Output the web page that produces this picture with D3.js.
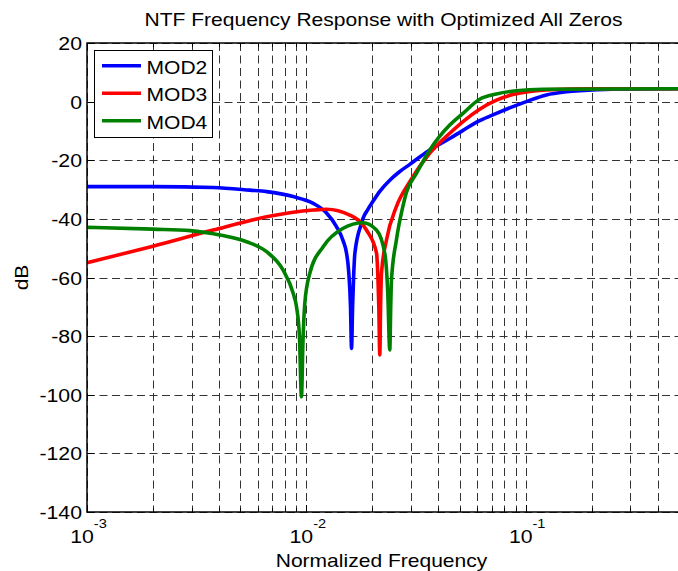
<!DOCTYPE html>
<html>
<head>
<meta charset="utf-8">
<script src="https://cdn.jsdelivr.net/npm/d3@7"></script>
<style>
  html, body { margin: 0; padding: 0; background: #fff; }
  svg { display: block; }
  text { font-family: "Liberation Sans", Arial, Helvetica, sans-serif; fill: #000; }
</style>
</head>
<body>
<div id="chart"></div>
<script>
// ---------- data ----------
const seriesNames = ["MOD2", "MOD3", "MOD4"];
const seriesColors = ["#0000ff", "#ff0000", "#008000"];

const mod2Freq = [0.001, 0.002, 0.00376, 0.00553, 0.00659, 0.00871, 0.01074, 0.01236, 0.01374, 0.01472, 0.01525, 0.0156, 0.0159, 0.01607, 0.01625, 0.01645, 0.01664, 0.01784, 0.01813, 0.0190, 0.02014, 0.02162, 0.02401, 0.0265, 0.02962, 0.0330, 0.03654, 0.04505, 0.05179, 0.06168, 0.07357, 0.08753, 0.1007, 0.1242, 0.15, 0.1762, 0.249, 0.5];
const mod2Db   = [-29.0, -29.0, -29.3, -30.2, -30.7, -32.4, -34.7, -38.0, -42.7, -47.5, -51.7, -58.0, -70.0, -84.2, -70.0, -58.5, -51.8, -41.5, -39.8, -37.0, -34.0, -30.6, -26.8, -24.0, -21.4, -18.8, -16.5, -12.6, -9.8, -6.5, -4.0, -1.7, 0.0, 2.3, 3.3, 3.7, 4.2, 4.4];

const mod3Freq = [0.001, 0.002, 0.00376, 0.00659, 0.01074, 0.01236, 0.01578, 0.01879, 0.02088, 0.0212, 0.0214, 0.02162, 0.0218, 0.02201, 0.02319, 0.02574, 0.02962, 0.03654, 0.04505, 0.05179, 0.06168, 0.07357, 0.08753, 0.1007, 0.1242, 0.2, 0.5];
const mod3Db   = [-55.0, -49.3, -43.8, -39.3, -37.0, -36.7, -38.7, -43.8, -51.6, -60.0, -70.0, -86.4, -70.0, -58.5, -47.2, -35.8, -27.3, -17.6, -10.8, -6.8, -2.6, 0.5, 2.4, 3.3, 4.0, 4.4, 4.4];

const mod4Freq = [0.001, 0.002, 0.00295, 0.00404, 0.00534, 0.00659, 0.00784, 0.00871, 0.00902, 0.0093, 0.0095, 0.00965, 0.00984, 0.01037, 0.01193, 0.01472, 0.01813, 0.02088, 0.02279, 0.0235, 0.02401, 0.02425, 0.02444, 0.02574, 0.0276, 0.02858, 0.03177, 0.03654, 0.04505, 0.05179, 0.06168, 0.07357, 0.09064, 0.12, 0.5];
const mod4Db   = [-42.9, -43.5, -44.0, -45.5, -47.8, -51.2, -57.5, -65.4, -70.0, -80.0, -100.7, -82.0, -68.8, -58.6, -49.5, -43.2, -41.3, -43.8, -51.8, -65.0, -84.7, -70.0, -60.9, -47.2, -35.5, -31.0, -24.5, -16.5, -8.0, -4.0, 0.8, 2.6, 3.7, 4.2, 4.4];

const yTicks = [20, 0, -20, -40, -60, -80, -100, -120, -140];
const xMajorTicks = [0.001, 0.01, 0.1];
const xMajorLabels = ["-3", "-2", "-1"];
const xMinorTicks = [0.002,0.003,0.004,0.005,0.006,0.007,0.008,0.009,
                     0.02,0.03,0.04,0.05,0.06,0.07,0.08,0.09,
                     0.2,0.3,0.4,0.5];

const titleText = "NTF Frequency Response with Optimized All Zeros";
const xLabelText = "Normalized Frequency";
const yLabelText = "dB";

// ---------- layout ----------
const W = 678, H = 571;
const plot = { left: 87, right: 679, top: 43, bottom: 512 };
const SX = 1.12; // horizontal text stretch seen in the reference

const x = d3.scaleLog().domain([0.001, 0.5]).range([plot.left, plot.right]);
const y = d3.scaleLinear().domain([-140, 20]).range([plot.bottom, plot.top]);

const svg = d3.select("#chart").append("svg").attr("width", W).attr("height", H);

svg.append("clipPath").attr("id", "clip").append("rect")
  .attr("x", plot.left).attr("y", plot.top)
  .attr("width", plot.right - plot.left).attr("height", plot.bottom - plot.top);

// ---------- grid ----------
const grid = svg.append("g").attr("stroke", "#333").attr("stroke-width", 1)
  .attr("stroke-dasharray", "8,4.5").attr("fill", "none");
xMajorTicks.concat(xMinorTicks).forEach(v => {
  const px = Math.round(x(v)) + 0.5;
  grid.append("line").attr("x1", px).attr("x2", px).attr("y1", plot.top).attr("y2", plot.bottom);
});
yTicks.forEach(v => {
  const py = Math.round(y(v)) + 0.5;
  grid.append("line").attr("x1", plot.left).attr("x2", plot.right).attr("y1", py).attr("y2", py);
});

// ---------- tick marks (inward) ----------
const ticks = svg.append("g").attr("stroke", "#000").attr("stroke-width", 1);
xMajorTicks.forEach(v => {
  const px = Math.round(x(v)) + 0.5;
  ticks.append("line").attr("x1", px).attr("x2", px).attr("y1", plot.bottom).attr("y2", plot.bottom - 7);
  ticks.append("line").attr("x1", px).attr("x2", px).attr("y1", plot.top).attr("y2", plot.top + 7);
});
xMinorTicks.forEach(v => {
  const px = Math.round(x(v)) + 0.5;
  ticks.append("line").attr("x1", px).attr("x2", px).attr("y1", plot.bottom).attr("y2", plot.bottom - 4);
  ticks.append("line").attr("x1", px).attr("x2", px).attr("y1", plot.top).attr("y2", plot.top + 4);
});
yTicks.forEach(v => {
  const py = Math.round(y(v)) + 0.5;
  ticks.append("line").attr("x1", plot.left).attr("x2", plot.left + 7).attr("y1", py).attr("y2", py);
});

// ---------- curves ----------
const line = d3.line().x(d => x(d[0])).y(d => y(d[1])).curve(d3.curveMonotoneX);
const allSeries = [
  d3.zip(mod2Freq, mod2Db),
  d3.zip(mod3Freq, mod3Db),
  d3.zip(mod4Freq, mod4Db)
];
const curves = svg.append("g").attr("clip-path", "url(#clip)");
allSeries.forEach((s, i) => {
  curves.append("path").datum(s).attr("d", line)
    .attr("fill", "none").attr("stroke", seriesColors[i])
    .attr("stroke-width", 3.6).attr("stroke-linejoin", "round").attr("stroke-linecap", "round");
});

// ---------- axes box ----------
svg.append("rect").attr("x", plot.left).attr("y", plot.top)
  .attr("width", plot.right - plot.left).attr("height", plot.bottom - plot.top)
  .attr("fill", "none").attr("stroke", "#000").attr("stroke-width", 1.5);

// ---------- text helpers ----------
function stretchedText(g, tx, ty, str, size, anchor) {
  return g.append("text")
    .attr("transform", `translate(${tx},${ty}) scale(${SX},1)`)
    .attr("text-anchor", anchor).attr("font-size", size).text(str);
}

// y tick labels
yTicks.forEach(v => {
  stretchedText(svg, 82, y(v) + 7, String(v), 19, "end");
});

// x tick labels: 10^k
xMajorTicks.forEach((v, i) => {
  const t = svg.append("text")
    .attr("transform", `translate(${x(v) + 1.5},${542.7}) scale(${SX},1)`)
    .attr("text-anchor", "middle").attr("font-size", 19);
  t.append("tspan").text("10");
  t.append("tspan").attr("font-size", 13).attr("dy", -15).text(xMajorLabels[i]);
});

// title, axis labels
stretchedText(svg, 383.5, 25.5, titleText, 18.8, "middle");
stretchedText(svg, 381.5, 566.5, xLabelText, 18.8, "middle");
svg.append("text")
  .attr("transform", `translate(28,${(plot.top + plot.bottom) / 2}) rotate(-90) scale(${SX},1)`)
  .attr("text-anchor", "middle").attr("font-size", 18.8).text(yLabelText);

// ---------- legend ----------
const legend = svg.append("g");
legend.append("rect").attr("x", 94.5).attr("y", 50.5).attr("width", 118).attr("height", 87)
  .attr("fill", "#fff").attr("stroke", "#000").attr("stroke-width", 1);
const legendY = [65.7, 93.2, 120.7];
seriesNames.forEach((name, i) => {
  legend.append("line").attr("x1", 102).attr("x2", 141).attr("y1", legendY[i]).attr("y2", legendY[i])
    .attr("stroke", seriesColors[i]).attr("stroke-width", 3.6);
  stretchedText(legend, 146.5, legendY[i] + 8, name, 18.8, "start");
});
</script>
</body>
</html>
